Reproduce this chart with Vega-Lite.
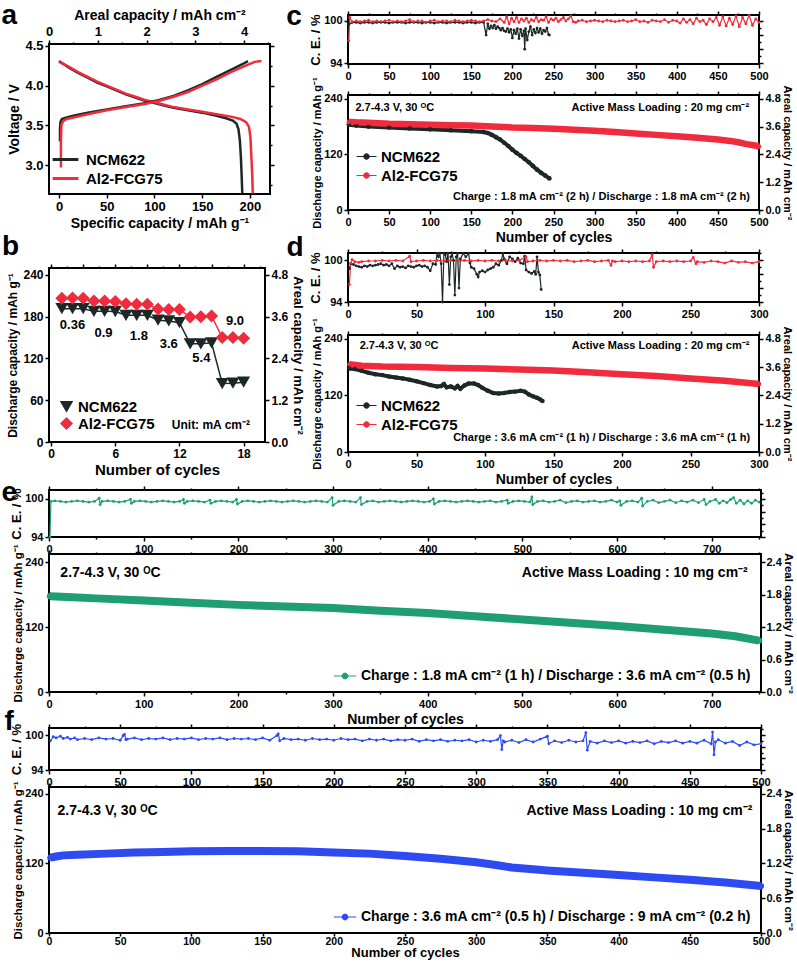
{
"$schema": "https://vega.github.io/schema/vega-lite/v6.json",
"padding": {"left": 0, "top": 0, "right": 0, "bottom": 0},
"background": "white",
"config": {
  "font": "Liberation Sans",
  "view": {"stroke": "#000", "strokeWidth": 2},
  "axis": {"domain": false, "grid": false, "labelFont": "Liberation Sans", "labelFontWeight": "bold", "labelColor": "#000", "labelFontSize": 11, "labelFlush": false, "labelOverlap": false, "labelBound": false, "labelPadding": 2, "titleFont": "Liberation Sans", "titleFontWeight": "bold", "titleColor": "#000", "titleFontSize": 13, "titlePadding": 3, "tickColor": "#000", "tickWidth": 1.5, "tickSize": 4},
  "legend": {"labelFont": "Liberation Sans", "labelFontWeight": "bold", "labelColor": "#000", "labelFontSize": 15, "labelLimit": 800},
  "text": {"font": "Liberation Sans", "fontWeight": "bold", "color": "#000"}
},
"datasets": {
  "a": [
    {"s":"NCM622","k":"Nd","o":1,"x":0,"v":4.31},{"s":"NCM622","k":"Nd","o":2,"x":5,"v":4.27},{"s":"NCM622","k":"Nd","o":3,"x":10,"v":4.23},{"s":"NCM622","k":"Nd","o":4,"x":20,"v":4.16},{"s":"NCM622","k":"Nd","o":5,"x":30,"v":4.1},{"s":"NCM622","k":"Nd","o":6,"x":40,"v":4.04},{"s":"NCM622","k":"Nd","o":7,"x":50,"v":3.99},{"s":"NCM622","k":"Nd","o":8,"x":60,"v":3.94},{"s":"NCM622","k":"Nd","o":9,"x":70,"v":3.89},{"s":"NCM622","k":"Nd","o":10,"x":80,"v":3.85},{"s":"NCM622","k":"Nd","o":11,"x":90,"v":3.81},{"s":"NCM622","k":"Nd","o":12,"x":100,"v":3.78},{"s":"NCM622","k":"Nd","o":13,"x":110,"v":3.75},{"s":"NCM622","k":"Nd","o":14,"x":120,"v":3.72},{"s":"NCM622","k":"Nd","o":15,"x":135,"v":3.69},{"s":"NCM622","k":"Nd","o":16,"x":150,"v":3.66},{"s":"NCM622","k":"Nd","o":17,"x":165,"v":3.62},{"s":"NCM622","k":"Nd","o":18,"x":175,"v":3.59},{"s":"NCM622","k":"Nd","o":19,"x":182,"v":3.56},{"s":"NCM622","k":"Nd","o":20,"x":186,"v":3.52},{"s":"NCM622","k":"Nd","o":21,"x":188,"v":3.45},{"s":"NCM622","k":"Nd","o":22,"x":189.5,"v":3.3},{"s":"NCM622","k":"Nd","o":23,"x":190.5,"v":3.1},{"s":"NCM622","k":"Nd","o":24,"x":191.2,"v":2.9},{"s":"NCM622","k":"Nd","o":25,"x":191.8,"v":2.7},{"s":"NCM622","k":"Nd","o":26,"x":192,"v":2.64},
    {"s":"Al2-FCG75","k":"Ad","o":1,"x":0,"v":4.3},{"s":"Al2-FCG75","k":"Ad","o":2,"x":5,"v":4.27},{"s":"Al2-FCG75","k":"Ad","o":3,"x":10,"v":4.24},{"s":"Al2-FCG75","k":"Ad","o":4,"x":20,"v":4.17},{"s":"Al2-FCG75","k":"Ad","o":5,"x":30,"v":4.11},{"s":"Al2-FCG75","k":"Ad","o":6,"x":40,"v":4.05},{"s":"Al2-FCG75","k":"Ad","o":7,"x":50,"v":4.0},{"s":"Al2-FCG75","k":"Ad","o":8,"x":60,"v":3.95},{"s":"Al2-FCG75","k":"Ad","o":9,"x":70,"v":3.9},{"s":"Al2-FCG75","k":"Ad","o":10,"x":80,"v":3.86},{"s":"Al2-FCG75","k":"Ad","o":11,"x":90,"v":3.82},{"s":"Al2-FCG75","k":"Ad","o":12,"x":100,"v":3.79},{"s":"Al2-FCG75","k":"Ad","o":13,"x":110,"v":3.76},{"s":"Al2-FCG75","k":"Ad","o":14,"x":120,"v":3.73},{"s":"Al2-FCG75","k":"Ad","o":15,"x":135,"v":3.7},{"s":"Al2-FCG75","k":"Ad","o":16,"x":150,"v":3.67},{"s":"Al2-FCG75","k":"Ad","o":17,"x":165,"v":3.64},{"s":"Al2-FCG75","k":"Ad","o":18,"x":180,"v":3.61},{"s":"Al2-FCG75","k":"Ad","o":19,"x":190,"v":3.58},{"s":"Al2-FCG75","k":"Ad","o":20,"x":196,"v":3.54},{"s":"Al2-FCG75","k":"Ad","o":21,"x":199,"v":3.48},{"s":"Al2-FCG75","k":"Ad","o":22,"x":200.5,"v":3.35},{"s":"Al2-FCG75","k":"Ad","o":23,"x":201.5,"v":3.1},{"s":"Al2-FCG75","k":"Ad","o":24,"x":202.3,"v":2.9},{"s":"Al2-FCG75","k":"Ad","o":25,"x":202.8,"v":2.7},{"s":"Al2-FCG75","k":"Ad","o":26,"x":203,"v":2.64},
    {"s":"NCM622","k":"Nc","o":1,"x":1,"v":3.3},{"s":"NCM622","k":"Nc","o":2,"x":1,"v":3.45},{"s":"NCM622","k":"Nc","o":3,"x":1.5,"v":3.54},{"s":"NCM622","k":"Nc","o":4,"x":3,"v":3.58},{"s":"NCM622","k":"Nc","o":5,"x":8,"v":3.6},{"s":"NCM622","k":"Nc","o":6,"x":15,"v":3.62},{"s":"NCM622","k":"Nc","o":7,"x":30,"v":3.66},{"s":"NCM622","k":"Nc","o":8,"x":50,"v":3.7},{"s":"NCM622","k":"Nc","o":9,"x":70,"v":3.74},{"s":"NCM622","k":"Nc","o":10,"x":90,"v":3.78},{"s":"NCM622","k":"Nc","o":11,"x":105,"v":3.82},{"s":"NCM622","k":"Nc","o":12,"x":120,"v":3.87},{"s":"NCM622","k":"Nc","o":13,"x":135,"v":3.94},{"s":"NCM622","k":"Nc","o":14,"x":150,"v":4.02},{"s":"NCM622","k":"Nc","o":15,"x":165,"v":4.11},{"s":"NCM622","k":"Nc","o":16,"x":180,"v":4.2},{"s":"NCM622","k":"Nc","o":17,"x":192,"v":4.27},{"s":"NCM622","k":"Nc","o":18,"x":198,"v":4.31},
    {"s":"Al2-FCG75","k":"Ac","o":1,"x":2,"v":2.97},{"s":"Al2-FCG75","k":"Ac","o":2,"x":2,"v":3.3},{"s":"Al2-FCG75","k":"Ac","o":3,"x":2.5,"v":3.5},{"s":"Al2-FCG75","k":"Ac","o":4,"x":4,"v":3.55},{"s":"Al2-FCG75","k":"Ac","o":5,"x":8,"v":3.58},{"s":"Al2-FCG75","k":"Ac","o":6,"x":15,"v":3.6},{"s":"Al2-FCG75","k":"Ac","o":7,"x":30,"v":3.64},{"s":"Al2-FCG75","k":"Ac","o":8,"x":50,"v":3.69},{"s":"Al2-FCG75","k":"Ac","o":9,"x":70,"v":3.73},{"s":"Al2-FCG75","k":"Ac","o":10,"x":90,"v":3.77},{"s":"Al2-FCG75","k":"Ac","o":11,"x":105,"v":3.81},{"s":"Al2-FCG75","k":"Ac","o":12,"x":120,"v":3.86},{"s":"Al2-FCG75","k":"Ac","o":13,"x":135,"v":3.92},{"s":"Al2-FCG75","k":"Ac","o":14,"x":150,"v":4.0},{"s":"Al2-FCG75","k":"Ac","o":15,"x":165,"v":4.08},{"s":"Al2-FCG75","k":"Ac","o":16,"x":180,"v":4.17},{"s":"Al2-FCG75","k":"Ac","o":17,"x":195,"v":4.25},{"s":"Al2-FCG75","k":"Ac","o":18,"x":205,"v":4.3},{"s":"Al2-FCG75","k":"Ac","o":19,"x":212,"v":4.31}
  ],
  "b": [
    {"s":"NCM622","n":1,"v":191.5},{"s":"NCM622","n":2,"v":191.5},{"s":"NCM622","n":3,"v":191.5},{"s":"NCM622","n":4,"v":187.7},{"s":"NCM622","n":5,"v":187.7},{"s":"NCM622","n":6,"v":187.5},{"s":"NCM622","n":7,"v":182},{"s":"NCM622","n":8,"v":182},{"s":"NCM622","n":9,"v":182},{"s":"NCM622","n":10,"v":175},{"s":"NCM622","n":11,"v":174},{"s":"NCM622","n":12,"v":171.5},{"s":"NCM622","n":13,"v":141},{"s":"NCM622","n":14,"v":141},{"s":"NCM622","n":15,"v":142.5},{"s":"NCM622","n":16,"v":84},{"s":"NCM622","n":17,"v":84.5},{"s":"NCM622","n":18,"v":86},
    {"s":"Al2-FCG75","n":1,"v":206.5},{"s":"Al2-FCG75","n":2,"v":207},{"s":"Al2-FCG75","n":3,"v":206.5},{"s":"Al2-FCG75","n":4,"v":202.6},{"s":"Al2-FCG75","n":5,"v":202.6},{"s":"Al2-FCG75","n":6,"v":202},{"s":"Al2-FCG75","n":7,"v":198.5},{"s":"Al2-FCG75","n":8,"v":197.8},{"s":"Al2-FCG75","n":9,"v":197.8},{"s":"Al2-FCG75","n":10,"v":191},{"s":"Al2-FCG75","n":11,"v":190.5},{"s":"Al2-FCG75","n":12,"v":190.5},{"s":"Al2-FCG75","n":13,"v":179.6},{"s":"Al2-FCG75","n":14,"v":180},{"s":"Al2-FCG75","n":15,"v":181},{"s":"Al2-FCG75","n":16,"v":150},{"s":"Al2-FCG75","n":17,"v":150},{"s":"Al2-FCG75","n":18,"v":149}
  ],
  "cce": [
    {"s":"N","n":1,"v":99.5},{"s":"N","n":5,"v":99.8},{"s":"N","n":10,"v":99.8},{"s":"N","n":15,"v":99.7},{"s":"N","n":20,"v":99.8},{"s":"N","n":25,"v":99.8},{"s":"N","n":30,"v":99.7},{"s":"N","n":35,"v":99.8},{"s":"N","n":40,"v":99.8},{"s":"N","n":45,"v":99.8},{"s":"N","n":50,"v":99.7},{"s":"N","n":55,"v":99.8},{"s":"N","n":60,"v":99.8},{"s":"N","n":65,"v":99.8},{"s":"N","n":70,"v":99.7},{"s":"N","n":75,"v":99.8},{"s":"N","n":80,"v":99.8},{"s":"N","n":85,"v":99.8},{"s":"N","n":90,"v":99.7},{"s":"N","n":95,"v":99.8},{"s":"N","n":100,"v":99.8},{"s":"N","n":105,"v":99.7},{"s":"N","n":110,"v":99.8},{"s":"N","n":115,"v":99.8},{"s":"N","n":120,"v":99.7},{"s":"N","n":125,"v":99.8},{"s":"N","n":130,"v":99.8},{"s":"N","n":135,"v":99.8},{"s":"N","n":140,"v":99.7},{"s":"N","n":145,"v":99.8},{"s":"N","n":150,"v":99.8},{"s":"N","n":155,"v":99.7},{"s":"N","n":160,"v":99.8},{"s":"N","n":165,"v":99.8},{"s":"N","n":168,"v":98.0},{"s":"N","n":170,"v":99.6},{"s":"N","n":172,"v":98.9},{"s":"N","n":174,"v":99.3},{"s":"N","n":176,"v":99.0},{"s":"N","n":178,"v":99.4},{"s":"N","n":180,"v":98.9},{"s":"N","n":182,"v":99.2},{"s":"N","n":184,"v":99.0},{"s":"N","n":186,"v":98.7},{"s":"N","n":188,"v":99.0},{"s":"N","n":190,"v":98.6},{"s":"N","n":192,"v":98.5},{"s":"N","n":194,"v":98.9},{"s":"N","n":196,"v":98.4},{"s":"N","n":198,"v":98.8},{"s":"N","n":200,"v":97.6},{"s":"N","n":202,"v":98.7},{"s":"N","n":204,"v":98.2},{"s":"N","n":206,"v":98.9},{"s":"N","n":208,"v":97.5},{"s":"N","n":210,"v":98.8},{"s":"N","n":212,"v":97.9},{"s":"N","n":214,"v":98.6},{"s":"N","n":215,"v":96.0},{"s":"N","n":216,"v":98.9},{"s":"N","n":218,"v":97.3},{"s":"N","n":220,"v":98.5},{"s":"N","n":222,"v":99.2},{"s":"N","n":224,"v":98.0},{"s":"N","n":226,"v":98.8},{"s":"N","n":228,"v":98.3},{"s":"N","n":230,"v":99.0},{"s":"N","n":232,"v":98.4},{"s":"N","n":234,"v":98.9},{"s":"N","n":236,"v":98.2},{"s":"N","n":238,"v":98.7},{"s":"N","n":240,"v":98.5},{"s":"N","n":242,"v":99.0},{"s":"N","n":244,"v":98.1},{"s":"N","n":245,"v":98.0},
    {"s":"A","n":1,"v":97.2},{"s":"A","n":2,"v":100.5},{"s":"A","n":5,"v":99.9},{"s":"A","n":10,"v":100.0},{"s":"A","n":15,"v":99.9},{"s":"A","n":20,"v":100.0},{"s":"A","n":25,"v":100.1},{"s":"A","n":30,"v":99.9},{"s":"A","n":35,"v":100.0},{"s":"A","n":40,"v":99.9},{"s":"A","n":45,"v":100.0},{"s":"A","n":50,"v":100.1},{"s":"A","n":55,"v":99.9},{"s":"A","n":60,"v":100.0},{"s":"A","n":65,"v":99.9},{"s":"A","n":70,"v":100.0},{"s":"A","n":75,"v":100.2},{"s":"A","n":80,"v":99.9},{"s":"A","n":85,"v":100.0},{"s":"A","n":90,"v":100.0},{"s":"A","n":95,"v":99.8},{"s":"A","n":100,"v":100.0},{"s":"A","n":105,"v":100.1},{"s":"A","n":110,"v":99.9},{"s":"A","n":115,"v":100.0},{"s":"A","n":120,"v":100.0},{"s":"A","n":125,"v":99.9},{"s":"A","n":130,"v":100.1},{"s":"A","n":135,"v":100.0},{"s":"A","n":140,"v":99.9},{"s":"A","n":145,"v":100.0},{"s":"A","n":150,"v":100.1},{"s":"A","n":155,"v":100.0},{"s":"A","n":160,"v":99.9},{"s":"A","n":165,"v":100.0},{"s":"A","n":170,"v":100.2},{"s":"A","n":175,"v":100.0},{"s":"A","n":180,"v":99.9},{"s":"A","n":185,"v":100.3},{"s":"A","n":190,"v":99.8},{"s":"A","n":193,"v":100.6},{"s":"A","n":196,"v":99.6},{"s":"A","n":199,"v":100.4},{"s":"A","n":202,"v":99.9},{"s":"A","n":205,"v":100.5},{"s":"A","n":208,"v":99.8},{"s":"A","n":211,"v":100.3},{"s":"A","n":214,"v":100.0},{"s":"A","n":217,"v":100.4},{"s":"A","n":220,"v":99.8},{"s":"A","n":223,"v":100.2},{"s":"A","n":226,"v":100.0},{"s":"A","n":229,"v":100.5},{"s":"A","n":232,"v":99.9},{"s":"A","n":235,"v":100.2},{"s":"A","n":238,"v":100.1},{"s":"A","n":241,"v":100.6},{"s":"A","n":244,"v":99.8},{"s":"A","n":247,"v":100.3},{"s":"A","n":250,"v":100.1},{"s":"A","n":253,"v":100.4},{"s":"A","n":256,"v":99.9},{"s":"A","n":259,"v":100.2},{"s":"A","n":262,"v":100.5},{"s":"A","n":265,"v":100.0},{"s":"A","n":268,"v":100.3},{"s":"A","n":271,"v":100.7},{"s":"A","n":274,"v":99.9},{"s":"A","n":277,"v":99.8},{"s":"A","n":280,"v":100.0},{"s":"A","n":285,"v":100.1},{"s":"A","n":290,"v":99.9},{"s":"A","n":295,"v":100.0},{"s":"A","n":300,"v":100.1},{"s":"A","n":305,"v":100.0},{"s":"A","n":310,"v":99.9},{"s":"A","n":315,"v":100.1},{"s":"A","n":320,"v":100.0},{"s":"A","n":325,"v":99.9},{"s":"A","n":330,"v":100.0},{"s":"A","n":335,"v":100.1},{"s":"A","n":340,"v":99.9},{"s":"A","n":345,"v":100.0},{"s":"A","n":350,"v":100.2},{"s":"A","n":355,"v":99.9},{"s":"A","n":360,"v":100.0},{"s":"A","n":365,"v":99.8},{"s":"A","n":370,"v":100.1},{"s":"A","n":375,"v":100.0},{"s":"A","n":380,"v":99.9},{"s":"A","n":385,"v":100.2},{"s":"A","n":390,"v":99.8},{"s":"A","n":395,"v":100.1},{"s":"A","n":400,"v":100.0},{"s":"A","n":404,"v":99.7},{"s":"A","n":408,"v":100.3},{"s":"A","n":412,"v":99.8},{"s":"A","n":416,"v":100.2},{"s":"A","n":420,"v":99.6},{"s":"A","n":424,"v":100.4},{"s":"A","n":428,"v":99.9},{"s":"A","n":432,"v":100.1},{"s":"A","n":436,"v":99.5},{"s":"A","n":440,"v":100.3},{"s":"A","n":444,"v":99.9},{"s":"A","n":448,"v":100.5},{"s":"A","n":452,"v":99.4},{"s":"A","n":456,"v":100.6},{"s":"A","n":460,"v":99.3},{"s":"A","n":464,"v":100.4},{"s":"A","n":468,"v":99.5},{"s":"A","n":472,"v":100.7},{"s":"A","n":476,"v":99.2},{"s":"A","n":480,"v":100.5},{"s":"A","n":484,"v":99.6},{"s":"A","n":488,"v":100.8},{"s":"A","n":492,"v":99.4},{"s":"A","n":496,"v":100.3},{"s":"A","n":500,"v":99.8}
  ],
  "cm": [
    {"s":"NCM622","n":1,"v":184},{"s":"NCM622","n":10,"v":182},{"s":"NCM622","n":25,"v":180},{"s":"NCM622","n":50,"v":178},{"s":"NCM622","n":75,"v":176},{"s":"NCM622","n":100,"v":174},{"s":"NCM622","n":125,"v":172},{"s":"NCM622","n":150,"v":170},{"s":"NCM622","n":165,"v":168},{"s":"NCM622","n":170,"v":166},{"s":"NCM622","n":175,"v":162},{"s":"NCM622","n":180,"v":157},{"s":"NCM622","n":185,"v":152},{"s":"NCM622","n":190,"v":145},{"s":"NCM622","n":195,"v":138},{"s":"NCM622","n":200,"v":130},{"s":"NCM622","n":205,"v":123},{"s":"NCM622","n":210,"v":117},{"s":"NCM622","n":215,"v":110},{"s":"NCM622","n":220,"v":103},{"s":"NCM622","n":225,"v":95},{"s":"NCM622","n":230,"v":87},{"s":"NCM622","n":235,"v":80},{"s":"NCM622","n":240,"v":74},{"s":"NCM622","n":245,"v":68},
    {"s":"Al2-FCG75","n":1,"v":190},{"s":"Al2-FCG75","n":10,"v":189},{"s":"Al2-FCG75","n":25,"v":188},{"s":"Al2-FCG75","n":50,"v":186},{"s":"Al2-FCG75","n":75,"v":185},{"s":"Al2-FCG75","n":100,"v":184},{"s":"Al2-FCG75","n":125,"v":183},{"s":"Al2-FCG75","n":150,"v":182},{"s":"Al2-FCG75","n":175,"v":180},{"s":"Al2-FCG75","n":200,"v":178},{"s":"Al2-FCG75","n":225,"v":177},{"s":"Al2-FCG75","n":250,"v":175},{"s":"Al2-FCG75","n":275,"v":173},{"s":"Al2-FCG75","n":300,"v":171},{"s":"Al2-FCG75","n":325,"v":168},{"s":"Al2-FCG75","n":350,"v":165},{"s":"Al2-FCG75","n":375,"v":162},{"s":"Al2-FCG75","n":400,"v":159},{"s":"Al2-FCG75","n":425,"v":156},{"s":"Al2-FCG75","n":450,"v":152},{"s":"Al2-FCG75","n":465,"v":149},{"s":"Al2-FCG75","n":475,"v":146},{"s":"Al2-FCG75","n":485,"v":142},{"s":"Al2-FCG75","n":495,"v":139},{"s":"Al2-FCG75","n":500,"v":137}
  ],
  "dce": [
    {"s":"N","n":1,"v":98.8},{"s":"N","n":2,"v":99.5},{"s":"N","n":4,"v":99.4},{"s":"N","n":6,"v":99.2},{"s":"N","n":8,"v":99.1},{"s":"N","n":10,"v":99.0},{"s":"N","n":12,"v":99.2},{"s":"N","n":14,"v":99.1},{"s":"N","n":16,"v":99.3},{"s":"N","n":18,"v":99.2},{"s":"N","n":20,"v":99.3},{"s":"N","n":22,"v":99.4},{"s":"N","n":24,"v":99.5},{"s":"N","n":26,"v":99.3},{"s":"N","n":28,"v":99.4},{"s":"N","n":30,"v":99.2},{"s":"N","n":32,"v":99.5},{"s":"N","n":34,"v":98.8},{"s":"N","n":36,"v":99.2},{"s":"N","n":38,"v":99.0},{"s":"N","n":40,"v":99.1},{"s":"N","n":42,"v":98.9},{"s":"N","n":44,"v":99.2},{"s":"N","n":46,"v":99.1},{"s":"N","n":48,"v":99.0},{"s":"N","n":50,"v":99.2},{"s":"N","n":52,"v":99.3},{"s":"N","n":54,"v":99.1},{"s":"N","n":56,"v":99.2},{"s":"N","n":58,"v":99.0},{"s":"N","n":60,"v":98.5},{"s":"N","n":62,"v":99.5},{"s":"N","n":64,"v":99.4},{"s":"N","n":65,"v":101},{"s":"N","n":66,"v":100.5},{"s":"N","n":67,"v":101},{"s":"N","n":68,"v":99.5},{"s":"N","n":69,"v":94},{"s":"N","n":70,"v":101},{"s":"N","n":71,"v":100.8},{"s":"N","n":72,"v":99.8},{"s":"N","n":73,"v":101},{"s":"N","n":74,"v":96.5},{"s":"N","n":75,"v":100.5},{"s":"N","n":76,"v":101},{"s":"N","n":77,"v":100},{"s":"N","n":78,"v":95},{"s":"N","n":79,"v":100.5},{"s":"N","n":80,"v":101},{"s":"N","n":81,"v":96},{"s":"N","n":82,"v":100.2},{"s":"N","n":84,"v":101},{"s":"N","n":86,"v":100.5},{"s":"N","n":88,"v":101},{"s":"N","n":89,"v":99.6},{"s":"N","n":90,"v":99.0},{"s":"N","n":92,"v":98.8},{"s":"N","n":94,"v":98.0},{"s":"N","n":95,"v":97.6},{"s":"N","n":96,"v":98.3},{"s":"N","n":98,"v":98.5},{"s":"N","n":100,"v":98.3},{"s":"N","n":102,"v":98.6},{"s":"N","n":104,"v":98.8},{"s":"N","n":106,"v":99.0},{"s":"N","n":108,"v":99.5},{"s":"N","n":110,"v":99.3},{"s":"N","n":112,"v":100},{"s":"N","n":113,"v":101},{"s":"N","n":114,"v":100.2},{"s":"N","n":116,"v":99.5},{"s":"N","n":118,"v":100.5},{"s":"N","n":120,"v":100.2},{"s":"N","n":122,"v":99.8},{"s":"N","n":124,"v":100.3},{"s":"N","n":126,"v":99.6},{"s":"N","n":128,"v":99.5},{"s":"N","n":129,"v":100.6},{"s":"N","n":130,"v":98.6},{"s":"N","n":132,"v":98.3},{"s":"N","n":134,"v":98.1},{"s":"N","n":136,"v":98.4},{"s":"N","n":137,"v":98.0},{"s":"N","n":138,"v":100.5},{"s":"N","n":139,"v":98.3},{"s":"N","n":140,"v":97.9},{"s":"N","n":141,"v":95.8},
    {"s":"A","n":1,"v":96.5},{"s":"A","n":2,"v":99.6},{"s":"A","n":3,"v":100.1},{"s":"A","n":5,"v":99.8},{"s":"A","n":8,"v":99.7},{"s":"A","n":10,"v":99.8},{"s":"A","n":15,"v":99.9},{"s":"A","n":20,"v":99.9},{"s":"A","n":25,"v":100.0},{"s":"A","n":30,"v":99.9},{"s":"A","n":35,"v":100.0},{"s":"A","n":40,"v":99.9},{"s":"A","n":45,"v":100.6},{"s":"A","n":46,"v":99.8},{"s":"A","n":50,"v":99.9},{"s":"A","n":55,"v":100.0},{"s":"A","n":60,"v":99.9},{"s":"A","n":65,"v":100.0},{"s":"A","n":70,"v":99.9},{"s":"A","n":75,"v":100.0},{"s":"A","n":80,"v":99.9},{"s":"A","n":85,"v":100.0},{"s":"A","n":90,"v":99.9},{"s":"A","n":95,"v":100.0},{"s":"A","n":100,"v":99.9},{"s":"A","n":105,"v":100.0},{"s":"A","n":110,"v":99.9},{"s":"A","n":115,"v":100.0},{"s":"A","n":120,"v":99.9},{"s":"A","n":125,"v":100.0},{"s":"A","n":130,"v":100.5},{"s":"A","n":131,"v":99.8},{"s":"A","n":135,"v":99.9},{"s":"A","n":140,"v":100.0},{"s":"A","n":145,"v":99.9},{"s":"A","n":150,"v":100.0},{"s":"A","n":155,"v":99.9},{"s":"A","n":160,"v":100.0},{"s":"A","n":165,"v":99.8},{"s":"A","n":170,"v":99.9},{"s":"A","n":175,"v":100.0},{"s":"A","n":180,"v":99.8},{"s":"A","n":185,"v":99.9},{"s":"A","n":190,"v":100.0},{"s":"A","n":192,"v":99.3},{"s":"A","n":193,"v":99.9},{"s":"A","n":195,"v":99.8},{"s":"A","n":200,"v":99.9},{"s":"A","n":205,"v":99.8},{"s":"A","n":210,"v":99.9},{"s":"A","n":215,"v":99.8},{"s":"A","n":220,"v":99.9},{"s":"A","n":222,"v":100.8},{"s":"A","n":223,"v":99.0},{"s":"A","n":225,"v":99.8},{"s":"A","n":230,"v":99.9},{"s":"A","n":235,"v":99.8},{"s":"A","n":240,"v":99.9},{"s":"A","n":245,"v":99.8},{"s":"A","n":250,"v":99.9},{"s":"A","n":252,"v":100.4},{"s":"A","n":254,"v":99.5},{"s":"A","n":255,"v":99.8},{"s":"A","n":260,"v":99.7},{"s":"A","n":265,"v":99.9},{"s":"A","n":270,"v":99.8},{"s":"A","n":275,"v":99.6},{"s":"A","n":280,"v":99.9},{"s":"A","n":285,"v":99.7},{"s":"A","n":290,"v":99.8},{"s":"A","n":295,"v":99.6},{"s":"A","n":300,"v":99.8}
  ],
  "dm": [
    {"s":"NCM622","n":1,"v":177},{"s":"NCM622","n":5,"v":176},{"s":"NCM622","n":10,"v":172},{"s":"NCM622","n":15,"v":168},{"s":"NCM622","n":20,"v":165},{"s":"NCM622","n":25,"v":163},{"s":"NCM622","n":30,"v":160},{"s":"NCM622","n":35,"v":158},{"s":"NCM622","n":40,"v":156},{"s":"NCM622","n":45,"v":153},{"s":"NCM622","n":50,"v":150},{"s":"NCM622","n":55,"v":146},{"s":"NCM622","n":60,"v":142},{"s":"NCM622","n":65,"v":139},{"s":"NCM622","n":68,"v":140},{"s":"NCM622","n":70,"v":144},{"s":"NCM622","n":72,"v":137},{"s":"NCM622","n":75,"v":139},{"s":"NCM622","n":78,"v":135},{"s":"NCM622","n":80,"v":140},{"s":"NCM622","n":82,"v":134},{"s":"NCM622","n":85,"v":141},{"s":"NCM622","n":88,"v":145},{"s":"NCM622","n":92,"v":145},{"s":"NCM622","n":95,"v":142},{"s":"NCM622","n":98,"v":136},{"s":"NCM622","n":102,"v":130},{"s":"NCM622","n":106,"v":125},{"s":"NCM622","n":110,"v":124},{"s":"NCM622","n":114,"v":125},{"s":"NCM622","n":118,"v":127},{"s":"NCM622","n":122,"v":128},{"s":"NCM622","n":126,"v":130},{"s":"NCM622","n":129,"v":128},{"s":"NCM622","n":132,"v":122},{"s":"NCM622","n":135,"v":118},{"s":"NCM622","n":138,"v":115},{"s":"NCM622","n":140,"v":112},{"s":"NCM622","n":142,"v":108},
    {"s":"Al2-FCG75","n":1,"v":186},{"s":"Al2-FCG75","n":10,"v":183},{"s":"Al2-FCG75","n":25,"v":181},{"s":"Al2-FCG75","n":50,"v":180},{"s":"Al2-FCG75","n":75,"v":178},{"s":"Al2-FCG75","n":100,"v":177},{"s":"Al2-FCG75","n":125,"v":175},{"s":"Al2-FCG75","n":150,"v":173},{"s":"Al2-FCG75","n":175,"v":169},{"s":"Al2-FCG75","n":200,"v":165},{"s":"Al2-FCG75","n":225,"v":161},{"s":"Al2-FCG75","n":250,"v":156},{"s":"Al2-FCG75","n":275,"v":151},{"s":"Al2-FCG75","n":300,"v":144}
  ],
  "ece": [
    {"n":1,"v":94.0},{"n":2,"v":99.6},{"n":6,"v":99.7},{"n":12,"v":99.6},{"n":18,"v":99.5},{"n":24,"v":99.6},{"n":30,"v":99.7},{"n":36,"v":99.6},{"n":42,"v":99.5},{"n":48,"v":99.6},{"n":53,"v":100.1},{"n":54,"v":99.1},{"n":56,"v":99.6},{"n":62,"v":99.7},{"n":68,"v":99.6},{"n":74,"v":99.5},{"n":80,"v":99.6},{"n":86,"v":99.9},{"n":87,"v":99.3},{"n":90,"v":99.6},{"n":96,"v":99.7},{"n":102,"v":99.6},{"n":108,"v":99.5},{"n":114,"v":99.6},{"n":120,"v":99.7},{"n":126,"v":99.6},{"n":132,"v":99.5},{"n":138,"v":99.6},{"n":142,"v":99.9},{"n":143,"v":99.3},{"n":146,"v":99.6},{"n":152,"v":99.7},{"n":158,"v":99.6},{"n":164,"v":99.5},{"n":170,"v":99.8},{"n":171,"v":99.3},{"n":176,"v":99.6},{"n":182,"v":99.7},{"n":188,"v":99.6},{"n":194,"v":99.5},{"n":198,"v":99.9},{"n":199,"v":99.2},{"n":204,"v":99.6},{"n":210,"v":99.7},{"n":216,"v":99.6},{"n":222,"v":99.5},{"n":228,"v":99.6},{"n":234,"v":99.7},{"n":240,"v":99.6},{"n":246,"v":99.5},{"n":252,"v":99.6},{"n":258,"v":99.7},{"n":264,"v":99.6},{"n":270,"v":99.5},{"n":276,"v":99.6},{"n":282,"v":99.7},{"n":288,"v":99.6},{"n":294,"v":99.5},{"n":299,"v":100.2},{"n":300,"v":99.0},{"n":306,"v":99.6},{"n":312,"v":99.7},{"n":318,"v":99.6},{"n":324,"v":99.5},{"n":329,"v":100.2},{"n":330,"v":99.1},{"n":336,"v":99.6},{"n":342,"v":99.7},{"n":348,"v":99.5},{"n":354,"v":99.6},{"n":360,"v":99.7},{"n":366,"v":99.6},{"n":372,"v":99.5},{"n":378,"v":99.6},{"n":384,"v":99.7},{"n":390,"v":99.6},{"n":396,"v":99.5},{"n":402,"v":99.6},{"n":406,"v":100.0},{"n":407,"v":99.2},{"n":412,"v":99.6},{"n":418,"v":99.7},{"n":424,"v":99.6},{"n":430,"v":99.5},{"n":436,"v":99.6},{"n":442,"v":99.7},{"n":448,"v":99.6},{"n":454,"v":99.5},{"n":460,"v":99.6},{"n":466,"v":99.7},{"n":472,"v":99.5},{"n":478,"v":99.6},{"n":484,"v":99.8},{"n":485,"v":99.3},{"n":490,"v":99.6},{"n":496,"v":99.7},{"n":502,"v":99.6},{"n":508,"v":99.5},{"n":510,"v":100.3},{"n":511,"v":99.1},{"n":516,"v":99.6},{"n":522,"v":99.7},{"n":528,"v":99.5},{"n":534,"v":99.6},{"n":540,"v":99.8},{"n":546,"v":99.4},{"n":552,"v":99.6},{"n":558,"v":99.7},{"n":564,"v":99.5},{"n":570,"v":99.6},{"n":576,"v":99.7},{"n":582,"v":99.5},{"n":588,"v":99.6},{"n":594,"v":99.8},{"n":600,"v":99.5},{"n":603,"v":99.7},{"n":604,"v":99.0},{"n":610,"v":99.6},{"n":616,"v":99.7},{"n":622,"v":99.5},{"n":626,"v":100.1},{"n":627,"v":98.9},{"n":632,"v":99.6},{"n":638,"v":99.8},{"n":644,"v":99.4},{"n":650,"v":99.6},{"n":656,"v":99.8},{"n":662,"v":99.4},{"n":668,"v":99.7},{"n":674,"v":99.5},{"n":680,"v":99.8},{"n":686,"v":99.4},{"n":692,"v":99.9},{"n":694,"v":99.1},{"n":698,"v":99.6},{"n":704,"v":99.9},{"n":708,"v":99.3},{"n":712,"v":99.7},{"n":716,"v":99.4},{"n":720,"v":99.9},{"n":723,"v":100.2},{"n":726,"v":99.3},{"n":730,"v":99.8},{"n":734,"v":99.2},{"n":738,"v":99.7},{"n":742,"v":99.3},{"n":746,"v":99.8},{"n":750,"v":99.5}
  ],
  "em": [
    {"n":1,"v":177},{"n":25,"v":175},{"n":50,"v":173},{"n":100,"v":169},{"n":150,"v":165},{"n":200,"v":161},{"n":250,"v":158},{"n":300,"v":155},{"n":350,"v":150},{"n":400,"v":146},{"n":450,"v":140},{"n":500,"v":134},{"n":550,"v":128},{"n":600,"v":122},{"n":650,"v":115},{"n":700,"v":108},{"n":725,"v":103},{"n":750,"v":95}
  ],
  "fce": [
    {"n":1,"v":99.0},{"n":3,"v":99.7},{"n":5,"v":99.5},{"n":8,"v":99.8},{"n":10,"v":99.4},{"n":13,"v":99.6},{"n":15,"v":99.3},{"n":18,"v":99.5},{"n":20,"v":99.2},{"n":25,"v":99.4},{"n":30,"v":99.2},{"n":35,"v":99.5},{"n":40,"v":99.3},{"n":45,"v":99.4},{"n":50,"v":99.1},{"n":52,"v":99.9},{"n":53,"v":100.1},{"n":54,"v":99.2},{"n":55,"v":99.3},{"n":60,"v":99.5},{"n":65,"v":99.2},{"n":70,"v":99.4},{"n":75,"v":99.3},{"n":80,"v":99.5},{"n":85,"v":99.2},{"n":90,"v":99.4},{"n":95,"v":99.3},{"n":100,"v":99.5},{"n":105,"v":99.2},{"n":110,"v":99.4},{"n":115,"v":99.3},{"n":120,"v":99.5},{"n":125,"v":99.2},{"n":130,"v":99.4},{"n":135,"v":99.3},{"n":140,"v":99.4},{"n":145,"v":99.2},{"n":150,"v":99.5},{"n":155,"v":99.1},{"n":160,"v":99.9},{"n":161,"v":100.2},{"n":162,"v":99.0},{"n":165,"v":99.4},{"n":170,"v":99.2},{"n":175,"v":99.3},{"n":180,"v":99.1},{"n":185,"v":99.4},{"n":190,"v":99.2},{"n":195,"v":99.3},{"n":200,"v":99.1},{"n":205,"v":99.4},{"n":210,"v":99.2},{"n":215,"v":99.3},{"n":220,"v":99.0},{"n":225,"v":99.3},{"n":230,"v":99.1},{"n":235,"v":99.3},{"n":240,"v":99.0},{"n":245,"v":99.2},{"n":250,"v":99.1},{"n":255,"v":99.3},{"n":260,"v":98.9},{"n":265,"v":99.2},{"n":270,"v":99.0},{"n":275,"v":99.2},{"n":280,"v":98.9},{"n":285,"v":99.1},{"n":290,"v":99.0},{"n":295,"v":99.2},{"n":300,"v":98.8},{"n":305,"v":99.1},{"n":310,"v":98.9},{"n":315,"v":99.2},{"n":317,"v":99.9},{"n":318,"v":97.5},{"n":319,"v":99.0},{"n":320,"v":98.8},{"n":325,"v":99.1},{"n":330,"v":98.7},{"n":335,"v":99.2},{"n":340,"v":98.8},{"n":345,"v":99.3},{"n":350,"v":99.8},{"n":351,"v":98.5},{"n":355,"v":99.0},{"n":360,"v":98.7},{"n":365,"v":99.1},{"n":370,"v":98.8},{"n":375,"v":99.0},{"n":377,"v":100.4},{"n":378,"v":97.4},{"n":380,"v":98.9},{"n":385,"v":98.6},{"n":390,"v":99.0},{"n":395,"v":98.7},{"n":400,"v":99.0},{"n":405,"v":98.6},{"n":410,"v":98.9},{"n":415,"v":98.7},{"n":420,"v":99.0},{"n":425,"v":98.5},{"n":430,"v":98.9},{"n":435,"v":98.7},{"n":440,"v":99.0},{"n":445,"v":98.6},{"n":450,"v":98.9},{"n":455,"v":98.6},{"n":460,"v":99.1},{"n":465,"v":98.5},{"n":466,"v":100.5},{"n":467,"v":96.6},{"n":468,"v":98.8},{"n":470,"v":99.2},{"n":475,"v":98.6},{"n":480,"v":98.9},{"n":485,"v":98.2},{"n":490,"v":98.8},{"n":495,"v":98.3},{"n":500,"v":98.5}
  ],
  "fm": [
    {"n":1,"v":130},{"n":5,"v":132},{"n":10,"v":134},{"n":20,"v":135},{"n":40,"v":137},{"n":60,"v":139},{"n":80,"v":140},{"n":100,"v":141},{"n":125,"v":141.5},{"n":150,"v":141.5},{"n":175,"v":141},{"n":200,"v":139},{"n":225,"v":137},{"n":250,"v":133},{"n":275,"v":128},{"n":300,"v":122},{"n":315,"v":117},{"n":325,"v":113},{"n":340,"v":110},{"n":350,"v":108},{"n":375,"v":104},{"n":400,"v":100},{"n":425,"v":96},{"n":450,"v":92},{"n":475,"v":87},{"n":500,"v":81}
  ]
},
"resolve": {"scale": {"color": "independent", "shape": "independent"}, "legend": {"color": "independent", "shape": "independent"}},
"vconcat": [
 {"resolve": {"scale": {"color": "independent", "shape": "independent"}, "legend": {"color": "independent", "shape": "independent"}},
  "hconcat": [
  {"resolve": {"scale": {"color": "independent", "shape": "independent"}, "legend": {"color": "independent", "shape": "independent"}},
   "bounds": "flush", "spacing": 14,
   "vconcat": [
    {"width": 1, "height": 15, "view": {"stroke": null}, "data": {"values": [{}]}, "mark": {"type": "point", "opacity": 0}, "encoding": {}},
    {"width": 221, "height": 150,
     "layer": [
      {"layer": [
       {"data": {"name": "a"}, "mark": {"type": "line", "strokeWidth": 2.5},
        "encoding": {
         "x": {"field": "x", "type": "quantitative", "scale": {"domain": [-10.5, 221], "nice": false, "zero": false}, "axis": {"values": [0,25,50,75,100,125,150,175,200], "labelOverlap": false, "labelExpr": "datum.value % 50 === 0 ? datum.label : ''", "tickSize": {"condition": {"test": "datum.value % 50 === 0", "value": 4}, "value": 2}, "title": "Specific capacity / mAh g⁻¹", "labelFontSize": 13, "titleFontSize": 14}},
         "y": {"field": "v", "type": "quantitative", "scale": {"domain": [2.635, 4.525], "nice": false, "zero": false}, "axis": {"values": [3,3.5,4,4.5], "format": ".1f", "title": "Voltage / V", "labelFontSize": 13, "titleFontSize": 14}},
         "color": {"field": "s", "type": "nominal", "scale": {"domain": ["NCM622","Al2-FCG75"], "range": ["#1c2826","#ef2b3d"]}, "legend": {"title": null, "orient": "bottom-left", "offset": 7, "symbolType": "M-1.7,0H1.7", "symbolStrokeWidth": 3, "symbolSize": 230, "labelOffset": 11, "labelFontSize": 15, "rowPadding": 1}},
         "detail": {"field": "k"},
         "order": {"field": "o", "type": "quantitative"}
        }},
       {"data": {"values": [{"x": -52, "v": 4.88, "t": "a"}]}, "mark": {"type": "text", "fontSize": 28, "baseline": "middle"},
        "encoding": {"x": {"field": "x", "type": "quantitative"}, "y": {"field": "v", "type": "quantitative"}, "text": {"field": "t"}}}
      ]},
      {"data": {"values": [{}]}, "mark": {"type": "point", "opacity": 0},
       "encoding": {
        "x": {"datum": 1, "type": "quantitative", "scale": {"domain": [0, 4.533], "nice": false, "zero": false}, "axis": {"orient": "top", "values": [0,0.5,1,1.5,2,2.5,3,3.5,4,4.5], "format": ".0f", "labelOverlap": false, "labelExpr": "datum.value % 1 === 0 ? datum.label : ''", "tickSize": {"condition": {"test": "datum.value % 1 === 0", "value": 4}, "value": 2}, "title": "Areal capacity / mAh cm⁻²", "labelFontSize": 13, "titleFontSize": 14}},
        "y": {"datum": 3.5, "type": "quantitative", "scale": {"domain": [2.635, 4.525], "nice": false, "zero": false}, "axis": {"orient": "right", "values": [2.75,3,3.25,3.5,3.75,4,4.25,4.5], "tickSize": {"condition": {"test": "datum.value % 0.5 === 0", "value": 4}, "value": 2}, "labels": false, "title": null}}
       }}
     ],
     "resolve": {"scale": {"x": "independent", "y": "independent"}}
    },
    {"width": 1, "height": 46, "view": {"stroke": null}, "data": {"values": [{}]}, "mark": {"type": "point", "opacity": 0}, "encoding": {}},
    {"width": 216, "height": 174,
     "layer": [
      {"layer": [
       {"data": {"name": "b"}, "mark": {"type": "line", "strokeWidth": 1.5},
        "encoding": {
         "x": {"field": "n", "type": "quantitative", "scale": {"domain": [-0.2, 20], "nice": false, "zero": false}, "axis": {"values": [0,3,6,9,12,15,18], "title": "Number of cycles", "labelFontSize": 12, "titleFontSize": 15}},
         "y": {"field": "v", "type": "quantitative", "scale": {"domain": [0, 250], "nice": false}, "axis": {"values": [0,60,120,180,240], "title": "Discharge capacity / mAh g⁻¹", "labelFontSize": 12, "titleFontSize": 12}},
         "color": {"field": "s", "type": "nominal", "scale": {"domain": ["NCM622","Al2-FCG75"], "range": ["#1c2826","#ef2b3d"]}, "legend": {"title": null, "orient": "bottom-left", "offset": 10, "labelFontSize": 15, "symbolSize": 120, "symbolStrokeWidth": 1.5, "rowPadding": 0}}
        }},
       {"data": {"name": "b"}, "mark": {"type": "point", "filled": true, "size": 170, "opacity": 1},
        "encoding": {
         "x": {"field": "n", "type": "quantitative"},
         "y": {"field": "v", "type": "quantitative"},
         "color": {"field": "s", "type": "nominal", "legend": {"title": null, "orient": "bottom-left", "offset": 10, "labelFontSize": 15, "symbolSize": 120, "symbolStrokeWidth": 1.5, "rowPadding": 0}},
         "shape": {"field": "s", "type": "nominal", "scale": {"domain": ["NCM622","Al2-FCG75"], "range": ["triangle-down","diamond"]}, "legend": {"title": null, "orient": "bottom-left", "offset": 10, "labelFontSize": 15, "symbolSize": 120, "symbolStrokeWidth": 1.5, "rowPadding": 0}}
        }},
       {"data": {"values": [{"n": 2.0, "v": 168, "t": "0.36"}, {"n": 4.9, "v": 157, "t": "0.9"}, {"n": 8.2, "v": 152, "t": "1.8"}, {"n": 11.0, "v": 141, "t": "3.6"}, {"n": 14.05, "v": 121, "t": "5.4"}, {"n": 17.2, "v": 174, "t": "9.0"}]},
        "mark": {"type": "text", "fontSize": 13, "baseline": "middle"},
        "encoding": {"x": {"field": "n", "type": "quantitative"}, "y": {"field": "v", "type": "quantitative"}, "text": {"field": "t"}}},
       {"data": {"values": [{"n": 18.6, "v": 24, "t": "Unit: mA cm⁻²"}]},
        "mark": {"type": "text", "fontSize": 12, "baseline": "middle", "align": "right"},
        "encoding": {"x": {"field": "n", "type": "quantitative"}, "y": {"field": "v", "type": "quantitative"}, "text": {"field": "t"}}},
       {"data": {"values": [{"n": -3.8, "v": 280, "t": "b"}]}, "mark": {"type": "text", "fontSize": 28, "baseline": "middle"},
        "encoding": {"x": {"field": "n", "type": "quantitative"}, "y": {"field": "v", "type": "quantitative"}, "text": {"field": "t"}}}
      ]},
      {"data": {"values": [{}]}, "mark": {"type": "point", "opacity": 0},
       "encoding": {
        "x": {"datum": 5, "type": "quantitative", "scale": {"domain": [-0.2, 20], "nice": false, "zero": false}, "axis": {"orient": "top", "values": [0,1.5,3,4.5,6,7.5,9,10.5,12,13.5,15,16.5,18,19.5], "tickSize": {"condition": {"test": "datum.value % 3 === 0", "value": 4}, "value": 2}, "labels": false, "title": null}},
        "y": {"datum": 1, "type": "quantitative", "scale": {"domain": [0, 5], "nice": false}, "axis": {"orient": "right", "values": [0,1.2,2.4,3.6,4.8], "format": ".1f", "title": "Areal capacity / mAh cm⁻²", "labelFontSize": 12, "titleFontSize": 13}}
       }}
     ],
     "resolve": {"scale": {"x": "independent", "y": "independent"}}
    }
   ]},
  {"resolve": {"scale": {"color": "independent"}, "legend": {"color": "independent"}},
   "bounds": "flush", "spacing": 10,
   "vconcat": [
    {"width": 411, "height": 49,
     "layer": [
      {"layer": [
       {"data": {"name": "cce"}, "mark": {"type": "line", "strokeWidth": 1.2, "point": {"filled": true, "size": 8}},
        "encoding": {
         "x": {"field": "n", "type": "quantitative", "scale": {"domain": [0, 500], "nice": false, "zero": false}, "axis": {"values": [0,25,50,75,100,125,150,175,200,225,250,275,300,325,350,375,400,425,450,475,500], "labelOverlap": false, "labelExpr": "datum.value % 50 === 0 ? datum.label : ''", "tickSize": {"condition": {"test": "datum.value % 50 === 0", "value": 4}, "value": 2}, "title": null}},
         "y": {"field": "v", "type": "quantitative", "scale": {"domain": [93.9, 100.85], "nice": false, "zero": false}, "axis": {"values": [94,96,98,100], "title": "C. E. / %", "titleFontSize": 13, "titlePadding": 1}},
         "color": {"field": "s", "type": "nominal", "scale": {"domain": ["N","A"], "range": ["#1c2826","#ef2b3d"]}, "legend": null}
        }},
       {"data": {"values": [{"n": -65.7, "v": 100.55, "t": "c"}]}, "mark": {"type": "text", "fontSize": 28, "baseline": "middle"},
        "encoding": {"x": {"field": "n", "type": "quantitative"}, "y": {"field": "v", "type": "quantitative"}, "text": {"field": "t"}}}
      ]},
      {"data": {"values": [{}]}, "mark": {"type": "point", "opacity": 0},
       "encoding": {
        "x": {"datum": 5, "type": "quantitative", "scale": {"domain": [0, 500], "nice": false, "zero": false}, "axis": {"orient": "top", "values": [0,25,50,75,100,125,150,175,200,225,250,275,300,325,350,375,400,425,450,475,500], "tickSize": {"condition": {"test": "datum.value % 50 === 0", "value": 4}, "value": 2}, "labels": false, "title": null}},
        "y": {"datum": 97, "type": "quantitative", "scale": {"domain": [93.9, 100.85], "nice": false, "zero": false}, "axis": {"orient": "right", "values": [94,95,96,97,98,99,100], "tickSize": {"condition": {"test": "datum.value % 2 === 0", "value": 4}, "value": 2}, "labels": false, "title": null}}
       }}
     ],
     "resolve": {"scale": {"x": "independent", "y": "independent"}}
    },
    {"width": 1, "height": 11, "view": {"stroke": null}, "data": {"values": [{}]}, "mark": {"type": "point", "opacity": 0}, "encoding": {}},
    {"width": 411, "height": 115,
     "layer": [
      {"layer": [
       {"data": {"name": "cm"}, "transform": [{"filter": "datum.s == 'NCM622'"}], "mark": {"type": "line", "strokeWidth": 4},
        "encoding": {
         "x": {"field": "n", "type": "quantitative", "scale": {"domain": [0, 500], "nice": false, "zero": false}, "axis": {"values": [0,25,50,75,100,125,150,175,200,225,250,275,300,325,350,375,400,425,450,475,500], "labelOverlap": false, "labelExpr": "datum.value % 50 === 0 ? datum.label : ''", "tickSize": {"condition": {"test": "datum.value % 50 === 0", "value": 4}, "value": 2}, "title": "Number of cycles", "titleFontSize": 14}},
         "y": {"field": "v", "type": "quantitative", "scale": {"domain": [0, 248], "nice": false}, "axis": {"values": [0,60,120,180,240], "title": "Discharge capacity / mAh g⁻¹", "titleFontSize": 11, "titlePadding": 1}},
         "color": {"field": "s", "type": "nominal", "scale": {"domain": ["NCM622","Al2-FCG75"], "range": ["#1c2826","#ef2b3d"]}, "legend": {"title": null, "orient": "none", "legendX": 8, "legendY": 51, "symbolType": "M-1,0H1M-0.28,0A0.28,0.28,0,1,1,0.28,0A0.28,0.28,0,1,1,-0.28,0Z", "symbolSize": 400, "symbolStrokeWidth": 1, "labelFontSize": 15, "rowPadding": -2}}
        }},
       {"data": {"name": "cm"}, "transform": [{"filter": "datum.s == 'Al2-FCG75'"}], "mark": {"type": "line", "strokeWidth": 6.5},
        "encoding": {
         "x": {"field": "n", "type": "quantitative"},
         "y": {"field": "v", "type": "quantitative"},
         "color": {"field": "s", "type": "nominal", "legend": {"title": null, "orient": "none", "legendX": 8, "legendY": 51, "symbolType": "M-1,0H1M-0.28,0A0.28,0.28,0,1,1,0.28,0A0.28,0.28,0,1,1,-0.28,0Z", "symbolSize": 400, "symbolStrokeWidth": 1, "labelFontSize": 15, "rowPadding": -2}}
        }},
       {"data": {"name": "cm"}, "mark": {"type": "point", "filled": true, "size": 22, "opacity": 1},
        "encoding": {
         "x": {"field": "n", "type": "quantitative"},
         "y": {"field": "v", "type": "quantitative"},
         "color": {"field": "s", "type": "nominal", "legend": {"title": null, "orient": "none", "legendX": 8, "legendY": 51, "symbolType": "M-1,0H1M-0.28,0A0.28,0.28,0,1,1,0.28,0A0.28,0.28,0,1,1,-0.28,0Z", "symbolSize": 400, "symbolStrokeWidth": 1, "labelFontSize": 15, "rowPadding": -2}}
        }},
       {"data": {"values": [{"n": 9, "v": 220, "t": "2.7-4.3 V, 30 ᴼC"}]}, "mark": {"type": "text", "fontSize": 11, "baseline": "middle", "align": "left"},
        "encoding": {"x": {"field": "n", "type": "quantitative"}, "y": {"field": "v", "type": "quantitative"}, "text": {"field": "t"}}},
       {"data": {"values": [{"n": 488, "v": 220, "t": "Active Mass Loading : 20 mg cm⁻²"}, {"n": 489, "v": 28, "t": "Charge : 1.8 mA cm⁻² (2 h) / Discharge : 1.8 mA cm⁻² (2 h)"}]}, "mark": {"type": "text", "fontSize": 11, "baseline": "middle", "align": "right"},
        "encoding": {"x": {"field": "n", "type": "quantitative"}, "y": {"field": "v", "type": "quantitative"}, "text": {"field": "t"}}}
      ]},
      {"data": {"values": [{}]}, "mark": {"type": "point", "opacity": 0},
       "encoding": {
        "x": {"datum": 5, "type": "quantitative", "scale": {"domain": [0, 500], "nice": false, "zero": false}, "axis": {"orient": "top", "values": [0,25,50,75,100,125,150,175,200,225,250,275,300,325,350,375,400,425,450,475,500], "tickSize": {"condition": {"test": "datum.value % 50 === 0", "value": 4}, "value": 2}, "labels": false, "title": null}},
        "y": {"datum": 1, "type": "quantitative", "scale": {"domain": [0, 4.96], "nice": false}, "axis": {"orient": "right", "values": [0,1.2,2.4,3.6,4.8], "format": ".1f", "title": "Areal capacity / mAh cm⁻²", "titleFontSize": 11, "titlePadding": 1}}
       }}
     ],
     "resolve": {"scale": {"x": "independent", "y": "independent"}}
    },
    {"width": 1, "height": 23, "view": {"stroke": null}, "data": {"values": [{}]}, "mark": {"type": "point", "opacity": 0}, "encoding": {}},
    {"width": 411, "height": 49,
     "layer": [
      {"layer": [
       {"data": {"name": "dce"}, "mark": {"type": "line", "strokeWidth": 1.2, "point": {"filled": true, "size": 8}},
        "encoding": {
         "x": {"field": "n", "type": "quantitative", "scale": {"domain": [0, 300], "nice": false, "zero": false}, "axis": {"values": [0,25,50,75,100,125,150,175,200,225,250,275,300], "labelOverlap": false, "labelExpr": "datum.value % 50 === 0 ? datum.label : ''", "tickSize": {"condition": {"test": "datum.value % 50 === 0", "value": 4}, "value": 2}, "title": null}},
         "y": {"field": "v", "type": "quantitative", "scale": {"domain": [94, 101.05], "nice": false, "zero": false}, "axis": {"values": [94,96,98,100], "title": "C. E. / %", "titleFontSize": 13, "titlePadding": 1}},
         "color": {"field": "s", "type": "nominal", "scale": {"domain": ["N","A"], "range": ["#1c2826","#ef2b3d"]}, "legend": null}
        }},
       {"data": {"values": [{"n": -38.6, "v": 101.77, "t": "d"}]}, "mark": {"type": "text", "fontSize": 28, "baseline": "middle"},
        "encoding": {"x": {"field": "n", "type": "quantitative"}, "y": {"field": "v", "type": "quantitative"}, "text": {"field": "t"}}}
      ]},
      {"data": {"values": [{}]}, "mark": {"type": "point", "opacity": 0},
       "encoding": {
        "x": {"datum": 5, "type": "quantitative", "scale": {"domain": [0, 300], "nice": false, "zero": false}, "axis": {"orient": "top", "values": [0,25,50,75,100,125,150,175,200,225,250,275,300], "tickSize": {"condition": {"test": "datum.value % 50 === 0", "value": 4}, "value": 2}, "labels": false, "title": null}},
        "y": {"datum": 97, "type": "quantitative", "scale": {"domain": [94, 101.05], "nice": false, "zero": false}, "axis": {"orient": "right", "values": [94,95,96,97,98,99,100,101], "tickSize": {"condition": {"test": "datum.value % 2 === 0", "value": 4}, "value": 2}, "labels": false, "title": null}}
       }}
     ],
     "resolve": {"scale": {"x": "independent", "y": "independent"}}
    },
    {"width": 1, "height": 13, "view": {"stroke": null}, "data": {"values": [{}]}, "mark": {"type": "point", "opacity": 0}, "encoding": {}},
    {"width": 411, "height": 117,
     "layer": [
      {"layer": [
       {"data": {"name": "dm"}, "transform": [{"filter": "datum.s == 'NCM622'"}], "mark": {"type": "line", "strokeWidth": 4},
        "encoding": {
         "x": {"field": "n", "type": "quantitative", "scale": {"domain": [0, 300], "nice": false, "zero": false}, "axis": {"values": [0,25,50,75,100,125,150,175,200,225,250,275,300], "labelOverlap": false, "labelExpr": "datum.value % 50 === 0 ? datum.label : ''", "tickSize": {"condition": {"test": "datum.value % 50 === 0", "value": 4}, "value": 2}, "title": "Number of cycles", "titleFontSize": 14}},
         "y": {"field": "v", "type": "quantitative", "scale": {"domain": [0, 248], "nice": false}, "axis": {"values": [0,60,120,180,240], "title": "Discharge capacity / mAh g⁻¹", "titleFontSize": 11, "titlePadding": 1}},
         "color": {"field": "s", "type": "nominal", "scale": {"domain": ["NCM622","Al2-FCG75"], "range": ["#1c2826","#ef2b3d"]}, "legend": {"title": null, "orient": "none", "legendX": 8, "legendY": 60, "symbolType": "M-1,0H1M-0.28,0A0.28,0.28,0,1,1,0.28,0A0.28,0.28,0,1,1,-0.28,0Z", "symbolSize": 400, "symbolStrokeWidth": 1, "labelFontSize": 15, "rowPadding": -2}}
        }},
       {"data": {"name": "dm"}, "transform": [{"filter": "datum.s == 'Al2-FCG75'"}], "mark": {"type": "line", "strokeWidth": 6.5},
        "encoding": {
         "x": {"field": "n", "type": "quantitative"},
         "y": {"field": "v", "type": "quantitative"},
         "color": {"field": "s", "type": "nominal", "legend": {"title": null, "orient": "none", "legendX": 8, "legendY": 60, "symbolType": "M-1,0H1M-0.28,0A0.28,0.28,0,1,1,0.28,0A0.28,0.28,0,1,1,-0.28,0Z", "symbolSize": 400, "symbolStrokeWidth": 1, "labelFontSize": 15, "rowPadding": -2}}
        }},
       {"data": {"name": "dm"}, "mark": {"type": "point", "filled": true, "size": 20, "opacity": 1},
        "encoding": {
         "x": {"field": "n", "type": "quantitative"},
         "y": {"field": "v", "type": "quantitative"},
         "color": {"field": "s", "type": "nominal", "legend": {"title": null, "orient": "none", "legendX": 8, "legendY": 60, "symbolType": "M-1,0H1M-0.28,0A0.28,0.28,0,1,1,0.28,0A0.28,0.28,0,1,1,-0.28,0Z", "symbolSize": 400, "symbolStrokeWidth": 1, "labelFontSize": 15, "rowPadding": -2}}
        }},
       {"data": {"values": [{"n": 8.5, "v": 225, "t": "2.7-4.3 V, 30 ᴼC"}]}, "mark": {"type": "text", "fontSize": 11, "baseline": "middle", "align": "left"},
        "encoding": {"x": {"field": "n", "type": "quantitative"}, "y": {"field": "v", "type": "quantitative"}, "text": {"field": "t"}}},
       {"data": {"values": [{"n": 293, "v": 225, "t": "Active Mass Loading : 20 mg cm⁻²"}, {"n": 293.5, "v": 29, "t": "Charge : 3.6 mA cm⁻² (1 h) / Discharge : 3.6 mA cm⁻² (1 h)"}]}, "mark": {"type": "text", "fontSize": 11, "baseline": "middle", "align": "right"},
        "encoding": {"x": {"field": "n", "type": "quantitative"}, "y": {"field": "v", "type": "quantitative"}, "text": {"field": "t"}}}
      ]},
      {"data": {"values": [{}]}, "mark": {"type": "point", "opacity": 0},
       "encoding": {
        "x": {"datum": 5, "type": "quantitative", "scale": {"domain": [0, 300], "nice": false, "zero": false}, "axis": {"orient": "top", "values": [0,25,50,75,100,125,150,175,200,225,250,275,300], "tickSize": {"condition": {"test": "datum.value % 50 === 0", "value": 4}, "value": 2}, "labels": false, "title": null}},
        "y": {"datum": 1, "type": "quantitative", "scale": {"domain": [0, 4.96], "nice": false}, "axis": {"orient": "right", "values": [0,1.2,2.4,3.6,4.8], "format": ".1f", "title": "Areal capacity / mAh cm⁻²", "titleFontSize": 11, "titlePadding": 1}}
       }}
     ],
     "resolve": {"scale": {"x": "independent", "y": "independent"}}
    }
   ]}
 ], "spacing": -20},
 {"resolve": {"scale": {"color": "independent"}, "legend": {"color": "independent"}},
  "bounds": "flush", "spacing": 17,
  "vconcat": [
   {"width": 712, "height": 47,
    "layer": [
     {"layer": [
      {"data": {"name": "ece"}, "mark": {"type": "line", "strokeWidth": 1.2, "color": "#1f9e74", "point": {"filled": true, "size": 8, "color": "#1f9e74"}},
       "encoding": {
        "x": {"field": "n", "type": "quantitative", "scale": {"domain": [0, 752], "nice": false, "zero": false}, "axis": {"values": [0,50,100,150,200,250,300,350,400,450,500,550,600,650,700,750], "labelOverlap": false, "labelExpr": "datum.value % 100 === 0 ? datum.label : ''", "tickSize": {"condition": {"test": "datum.value % 100 === 0", "value": 4}, "value": 2}, "title": null}},
        "y": {"field": "v", "type": "quantitative", "scale": {"domain": [94, 101.4], "nice": false, "zero": false}, "axis": {"values": [94,96,98,100], "title": "C. E. / %", "titleFontSize": 13, "titlePadding": 1}}
       }},
      {"data": {"values": [{"n": -42, "v": 100.95, "t": "e"}]}, "mark": {"type": "text", "fontSize": 28, "baseline": "middle"},
       "encoding": {"x": {"field": "n", "type": "quantitative"}, "y": {"field": "v", "type": "quantitative"}, "text": {"field": "t"}}}
     ]},
     {"data": {"values": [{}]}, "mark": {"type": "point", "opacity": 0},
      "encoding": {
       "x": {"datum": 5, "type": "quantitative", "scale": {"domain": [0, 752], "nice": false, "zero": false}, "axis": {"orient": "top", "values": [0,50,100,150,200,250,300,350,400,450,500,550,600,650,700,750], "tickSize": {"condition": {"test": "datum.value % 100 === 0", "value": 4}, "value": 2}, "labels": false, "title": null}},
       "y": {"datum": 97, "type": "quantitative", "scale": {"domain": [94, 101.4], "nice": false, "zero": false}, "axis": {"orient": "right", "values": [94,95,96,97,98,99,100,101], "tickSize": {"condition": {"test": "datum.value % 2 === 0", "value": 4}, "value": 2}, "labels": false, "title": null}}
      }}
    ],
    "resolve": {"scale": {"x": "independent", "y": "independent"}}
   },
   {"width": 712, "height": 138,
    "layer": [
     {"layer": [
      {"data": {"name": "em"}, "mark": {"type": "line", "strokeWidth": 8},
       "encoding": {
        "x": {"field": "n", "type": "quantitative", "scale": {"domain": [0, 752], "nice": false, "zero": false}, "axis": {"values": [0,50,100,150,200,250,300,350,400,450,500,550,600,650,700,750], "labelOverlap": false, "labelExpr": "datum.value % 100 === 0 ? datum.label : ''", "tickSize": {"condition": {"test": "datum.value % 100 === 0", "value": 4}, "value": 2}, "title": "Number of cycles", "titleFontSize": 14}},
        "y": {"field": "v", "type": "quantitative", "scale": {"domain": [0, 255], "nice": false}, "axis": {"values": [0,60,120,180,240], "title": "Discharge capacity / mAh g⁻¹", "titleFontSize": 11.5, "titlePadding": 1}},
        "color": {"datum": "Charge : 1.8 mA cm⁻² (1 h) / Discharge : 3.6 mA cm⁻² (0.5 h)", "type": "nominal", "scale": {"range": ["#1f9e74"]}, "legend": {"title": null, "orient": "bottom-right", "offset": 9, "symbolType": "M-1,0H1M-0.26,0A0.26,0.26,0,1,1,0.26,0A0.26,0.26,0,1,1,-0.26,0Z", "symbolSize": 500, "symbolStrokeWidth": 1, "labelFontSize": 14}}
       }},
      {"data": {"name": "em"}, "mark": {"type": "point", "filled": true, "size": 40, "opacity": 1},
       "encoding": {
        "x": {"field": "n", "type": "quantitative"},
        "y": {"field": "v", "type": "quantitative"},
        "color": {"datum": "Charge : 1.8 mA cm⁻² (1 h) / Discharge : 3.6 mA cm⁻² (0.5 h)", "type": "nominal", "legend": {"title": null, "orient": "bottom-right", "offset": 9, "symbolType": "M-1,0H1M-0.26,0A0.26,0.26,0,1,1,0.26,0A0.26,0.26,0,1,1,-0.26,0Z", "symbolSize": 500, "symbolStrokeWidth": 1, "labelFontSize": 14}}
       }},
      {"data": {"values": [{"n": 12, "v": 220, "t": "2.7-4.3 V, 30 ᴼC"}]}, "mark": {"type": "text", "fontSize": 14, "baseline": "middle", "align": "left"},
       "encoding": {"x": {"field": "n", "type": "quantitative"}, "y": {"field": "v", "type": "quantitative"}, "text": {"field": "t"}}},
      {"data": {"values": [{"n": 738, "v": 220, "t": "Active Mass Loading : 10 mg cm⁻²"}]}, "mark": {"type": "text", "fontSize": 14, "baseline": "middle", "align": "right"},
       "encoding": {"x": {"field": "n", "type": "quantitative"}, "y": {"field": "v", "type": "quantitative"}, "text": {"field": "t"}}}
     ]},
     {"data": {"values": [{}]}, "mark": {"type": "point", "opacity": 0},
      "encoding": {
       "x": {"datum": 5, "type": "quantitative", "scale": {"domain": [0, 752], "nice": false, "zero": false}, "axis": {"orient": "top", "values": [0,50,100,150,200,250,300,350,400,450,500,550,600,650,700,750], "tickSize": {"condition": {"test": "datum.value % 100 === 0", "value": 4}, "value": 2}, "labels": false, "title": null}},
       "y": {"datum": 1, "type": "quantitative", "scale": {"domain": [0, 2.55], "nice": false}, "axis": {"orient": "right", "values": [0,0.6,1.2,1.8,2.4], "format": ".1f", "title": "Areal capacity / mAh cm⁻²", "titleFontSize": 11.5, "titlePadding": 1, "labelPadding": 1}}
      }}
    ],
    "resolve": {"scale": {"x": "independent", "y": "independent"}}
   },
   {"width": 1, "height": 2, "view": {"stroke": null}, "data": {"values": [{}]}, "mark": {"type": "point", "opacity": 0}, "encoding": {}},
   {"width": 712, "height": 42,
    "layer": [
     {"layer": [
      {"data": {"name": "fce"}, "mark": {"type": "line", "strokeWidth": 1.2, "color": "#2d4bf0", "point": {"filled": true, "size": 8, "color": "#2d4bf0"}},
       "encoding": {
        "x": {"field": "n", "type": "quantitative", "scale": {"domain": [0, 500], "nice": false, "zero": false}, "axis": {"values": [0,25,50,75,100,125,150,175,200,225,250,275,300,325,350,375,400,425,450,475,500], "labelOverlap": false, "labelExpr": "datum.value % 50 === 0 ? datum.label : ''", "tickSize": {"condition": {"test": "datum.value % 50 === 0", "value": 4}, "value": 2}, "title": null}},
        "y": {"field": "v", "type": "quantitative", "scale": {"domain": [94, 101.2], "nice": false, "zero": false}, "axis": {"values": [94,96,98,100], "title": "C. E. / %", "titleFontSize": 13, "titlePadding": 1}}
       }},
      {"data": {"values": [{"n": -28, "v": 102.3, "t": "f"}]}, "mark": {"type": "text", "fontSize": 28, "baseline": "middle"},
       "encoding": {"x": {"field": "n", "type": "quantitative"}, "y": {"field": "v", "type": "quantitative"}, "text": {"field": "t"}}}
     ]},
     {"data": {"values": [{}]}, "mark": {"type": "point", "opacity": 0},
      "encoding": {
       "x": {"datum": 5, "type": "quantitative", "scale": {"domain": [0, 500], "nice": false, "zero": false}, "axis": {"orient": "top", "values": [0,25,50,75,100,125,150,175,200,225,250,275,300,325,350,375,400,425,450,475,500], "tickSize": {"condition": {"test": "datum.value % 50 === 0", "value": 4}, "value": 2}, "labels": false, "title": null}},
       "y": {"datum": 97, "type": "quantitative", "scale": {"domain": [94, 101.2], "nice": false, "zero": false}, "axis": {"orient": "right", "values": [94,95,96,97,98,99,100,101], "tickSize": {"condition": {"test": "datum.value % 2 === 0", "value": 4}, "value": 2}, "labels": false, "title": null}}
      }}
    ],
    "resolve": {"scale": {"x": "independent", "y": "independent"}}
   },
   {"width": 712, "height": 146,
    "layer": [
     {"layer": [
      {"data": {"name": "fm"}, "mark": {"type": "line", "strokeWidth": 8},
       "encoding": {
        "x": {"field": "n", "type": "quantitative", "scale": {"domain": [0, 500], "nice": false, "zero": false}, "axis": {"values": [0,25,50,75,100,125,150,175,200,225,250,275,300,325,350,375,400,425,450,475,500], "labelOverlap": false, "labelExpr": "datum.value % 50 === 0 ? datum.label : ''", "tickSize": {"condition": {"test": "datum.value % 50 === 0", "value": 3}, "value": 1.5}, "title": "Number of cycles", "labelFontSize": 10.5, "titleFontSize": 13, "labelPadding": 0, "titlePadding": 0}},
        "y": {"field": "v", "type": "quantitative", "scale": {"domain": [0, 252], "nice": false}, "axis": {"values": [0,60,120,180,240], "title": "Discharge capacity / mAh g⁻¹", "titleFontSize": 11.5, "titlePadding": 1}},
        "color": {"datum": "Charge : 3.6 mA cm⁻² (0.5 h) / Discharge : 9 mA cm⁻² (0.2 h)", "type": "nominal", "scale": {"range": ["#2d4bf0"]}, "legend": {"title": null, "orient": "bottom-right", "offset": 9, "symbolType": "M-1,0H1M-0.26,0A0.26,0.26,0,1,1,0.26,0A0.26,0.26,0,1,1,-0.26,0Z", "symbolSize": 500, "symbolStrokeWidth": 1, "labelFontSize": 14}}
       }},
      {"data": {"name": "fm"}, "mark": {"type": "point", "filled": true, "size": 40, "opacity": 1},
       "encoding": {
        "x": {"field": "n", "type": "quantitative"},
        "y": {"field": "v", "type": "quantitative"},
        "color": {"datum": "Charge : 3.6 mA cm⁻² (0.5 h) / Discharge : 9 mA cm⁻² (0.2 h)", "type": "nominal", "legend": {"title": null, "orient": "bottom-right", "offset": 9, "symbolType": "M-1,0H1M-0.26,0A0.26,0.26,0,1,1,0.26,0A0.26,0.26,0,1,1,-0.26,0Z", "symbolSize": 500, "symbolStrokeWidth": 1, "labelFontSize": 14}}
       }},
      {"data": {"values": [{"n": 6, "v": 210, "t": "2.7-4.3 V, 30 ᴼC"}]}, "mark": {"type": "text", "fontSize": 14, "baseline": "middle", "align": "left"},
       "encoding": {"x": {"field": "n", "type": "quantitative"}, "y": {"field": "v", "type": "quantitative"}, "text": {"field": "t"}}},
      {"data": {"values": [{"n": 494, "v": 210, "t": "Active Mass Loading : 10 mg cm⁻²"}]}, "mark": {"type": "text", "fontSize": 14, "baseline": "middle", "align": "right"},
       "encoding": {"x": {"field": "n", "type": "quantitative"}, "y": {"field": "v", "type": "quantitative"}, "text": {"field": "t"}}}
     ]},
     {"data": {"values": [{}]}, "mark": {"type": "point", "opacity": 0},
      "encoding": {
       "x": {"datum": 5, "type": "quantitative", "scale": {"domain": [0, 500], "nice": false, "zero": false}, "axis": {"orient": "top", "values": [0,25,50,75,100,125,150,175,200,225,250,275,300,325,350,375,400,425,450,475,500], "tickSize": {"condition": {"test": "datum.value % 50 === 0", "value": 4}, "value": 2}, "labels": false, "title": null}},
       "y": {"datum": 1, "type": "quantitative", "scale": {"domain": [0, 2.52], "nice": false}, "axis": {"orient": "right", "values": [0,0.6,1.2,1.8,2.4], "format": ".1f", "title": "Areal capacity / mAh cm⁻²", "titleFontSize": 11.5, "titlePadding": 1, "labelPadding": 1}}
      }}
    ],
    "resolve": {"scale": {"x": "independent", "y": "independent"}}
   }
  ]}
],
"spacing": -10
}
